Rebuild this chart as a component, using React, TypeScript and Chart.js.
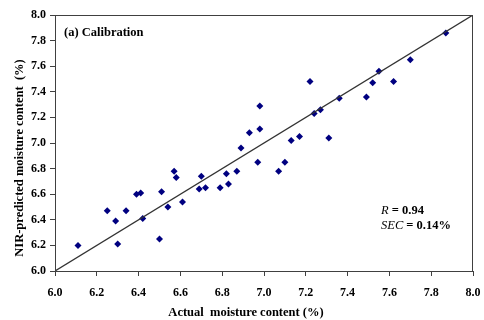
import React, { useEffect, useRef } from "react";
import { Chart, registerables } from "chart.js";

Chart.register(...registerables);

const actualMoisture = [6.11, 6.25, 6.29, 6.30, 6.34, 6.39, 6.41, 6.42, 6.50, 6.51, 6.54, 6.57, 6.58, 6.61, 6.70, 6.69, 6.72, 6.79, 6.82, 6.83, 6.87, 6.89, 6.93, 6.98, 6.97, 7.07, 7.10, 7.13, 7.17, 6.98, 7.22, 7.31, 7.24, 7.27, 7.36, 7.49, 7.52, 7.55, 7.62, 7.70, 7.87];
const predictedMoisture = [6.20, 6.47, 6.39, 6.21, 6.47, 6.60, 6.61, 6.41, 6.25, 6.62, 6.50, 6.78, 6.73, 6.54, 6.74, 6.64, 6.65, 6.65, 6.76, 6.68, 6.78, 6.96, 7.08, 7.11, 6.85, 6.78, 6.85, 7.02, 7.05, 7.29, 7.48, 7.04, 7.23, 7.26, 7.35, 7.36, 7.47, 7.56, 7.48, 7.65, 7.86];
const lineX = [6.0, 8.0];
const lineY = [6.0, 8.0];
const axisMin = 6.0;
const axisMax = 8.0;
const axisStep = 0.2;

const panelLabel = "(a) Calibration";
const xTitle = "Actual  moisture content (%)";
const yTitle = "NIR-predicted moisture content  (%)";
const statR = "0.94";
const statSEC = "0.14%";

const FONT = "'Liberation Serif', 'Times New Roman', serif";

const decorPlugin = {
  id: "decor",
  afterDraw(chart: any) {
    const { ctx, chartArea } = chart;
    const { left, right, top, bottom } = chartArea;
    ctx.save();
    // frame
    ctx.strokeStyle = "#404040";
    ctx.lineWidth = 1;
    ctx.strokeRect(left + 0.5, top + 0.5, right - left - 1, bottom - top);
    ctx.fillStyle = "#000";
    ctx.textBaseline = "middle";
    // panel label
    ctx.font = `bold 12.5px ${FONT}`;
    ctx.textAlign = "left";
    ctx.fillText(panelLabel, 64, 33);
    // stats
    const drawStat = (name: string, value: string, x: number, y: number) => {
      ctx.font = `italic 12.5px ${FONT}`;
      ctx.textAlign = "left";
      ctx.fillText(name, x, y);
      const w = ctx.measureText(name).width;
      ctx.font = `bold 12.5px ${FONT}`;
      ctx.fillText(" = " + value, x + w, y);
    };
    drawStat("R", statR, 381, 211);
    drawStat("SEC", statSEC, 381, 226);
    // x title
    ctx.font = `bold 12.5px ${FONT}`;
    ctx.textAlign = "center";
    ctx.fillText(xTitle, 246, 313);
    // y title
    ctx.translate(20, 158);
    ctx.rotate(-Math.PI / 2);
    ctx.fillText(yTitle, 0, 0);
    ctx.restore();
  },
};

export default function App() {
  const canvasRef = useRef<HTMLCanvasElement | null>(null);

  useEffect(() => {
    if (!canvasRef.current) return;
    const points = actualMoisture.map((x, i) => ({ x, y: predictedMoisture[i] }));
    const line = lineX.map((x, i) => ({ x, y: lineY[i] }));
    const tickFont = { family: FONT, size: 12, weight: "bold" as const };
    const chart = new Chart(canvasRef.current, {
      type: "scatter",
      data: {
        datasets: [
          {
            type: "line" as any,
            data: line,
            borderColor: "#333333",
            borderWidth: 1.3,
            pointRadius: 0,
            fill: false,
          } as any,
          {
            data: points,
            pointStyle: "rectRot",
            pointRadius: 3.5,
            backgroundColor: "#000080",
            borderColor: "#000080",
            borderWidth: 0,
          },
        ],
      },
      options: {
        responsive: false,
        animation: false,
        devicePixelRatio: 1,
        layout: { padding: { top: 15, right: 11, left: 0, bottom: 0 } },
        plugins: { legend: { display: false }, tooltip: { enabled: false } },
        scales: {
          x: {
            type: "linear",
            min: axisMin,
            max: axisMax,
            ticks: {
              stepSize: axisStep,
              color: "#000",
              font: tickFont,
              padding: 10,
              maxRotation: 0,
              callback: (v: any) => Number(v).toFixed(1),
            },
            grid: { drawOnChartArea: false, drawTicks: true, tickLength: 5, color: "#404040" },
            border: { display: true, color: "#404040" },
            afterFit: (scale: any) => {
              scale.height = 49;
              scale.paddingLeft = 0;
              scale.paddingRight = 0;
            },
          },
          y: {
            type: "linear",
            min: axisMin,
            max: axisMax,
            ticks: {
              stepSize: axisStep,
              color: "#000",
              font: tickFont,
              padding: 4,
              callback: (v: any) => Number(v).toFixed(1),
            },
            grid: { drawOnChartArea: false, drawTicks: true, tickLength: 5, color: "#404040" },
            border: { display: true, color: "#404040" },
            afterFit: (scale: any) => {
              scale.width = 55;
              scale.paddingTop = 0;
              scale.paddingBottom = 0;
            },
          },
        },
      },
      plugins: [decorPlugin],
    });
    return () => chart.destroy();
  }, []);

  return (
    <div style={{ position: "fixed", left: 0, top: 0, width: 484, height: 320, background: "#fff" }}>
      <canvas ref={canvasRef} width={484} height={320} style={{ width: 484, height: 320, display: "block" }} />
    </div>
  );
}
